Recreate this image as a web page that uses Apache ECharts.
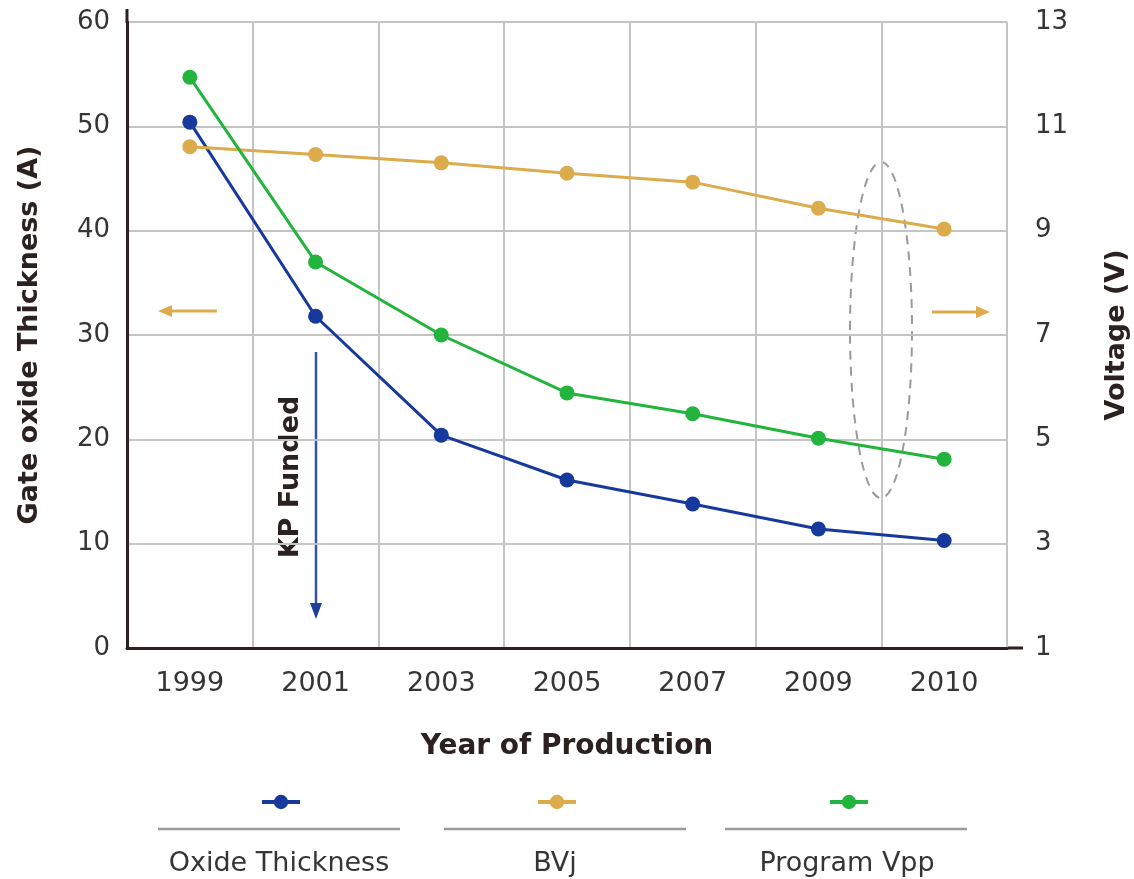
<!DOCTYPE html>
<html>
<head>
<meta charset="utf-8">
<script src="https://cdn.jsdelivr.net/npm/echarts@6/dist/echarts.min.js"></script>
<style>
  html, body { margin: 0; padding: 0; background: #fff; }
  #chart { width: 1134px; height: 879px; }
</style>
</head>
<body>
<div id="chart"></div>
<script>
// data
const years = ["1999", "2001", "2003", "2005", "2007", "2009", "2010"];
const oxideThickness = [50.4, 31.8, 20.4, 16.1, 13.8, 11.4, 10.3]; // left axis (A)
const bvj = [10.61, 10.46, 10.3, 10.1, 9.93, 9.43, 9.03]; // right axis (V)
const programVpp = [11.94, 8.4, 7.0, 5.89, 5.49, 5.02, 4.62]; // right axis (V)
const seriesNames = ["Oxide Thickness", "BVj", "Program Vpp"];

const BLUE = "#16399b";
const GOLD = "#dcab4c";
const GREEN = "#22b43c";
const DARK = "#2b2220";
const TEXT = "#353535";
const FONT = "DejaVu Sans";

// legend positions: icon centres and the grey rule centres under them
const legendX = [279, 555, 847];
const ruleX = [279, 565, 846];

const chart = echarts.init(document.getElementById("chart"));

const legendGraphics = [];
seriesNames.forEach((name, i) => {
  legendGraphics.push({
    type: "line",
    shape: { x1: ruleX[i] - 121, y1: 829, x2: ruleX[i] + 121, y2: 829 },
    style: { stroke: "#9a9a9a", lineWidth: 2.5 },
  });
  legendGraphics.push({
    type: "text",
    x: legendX[i],
    y: 864,
    style: {
      text: name,
      fill: TEXT,
      font: "27px " + FONT,
      textAlign: "center",
      align: "center",
      textVerticalAlign: "middle",
      verticalAlign: "middle",
    },
  });
});

const option = {
  animation: false,
  backgroundColor: "#fff",
  grid: { left: 127, right: 127, top: 22, bottom: 231, outerBoundsMode: "none", containLabel: false },
  legend: seriesNames.map((name, i) => ({
    data: [name],
    left: legendX[i] - 19,
    top: 793,
    padding: 0,
    itemWidth: 38,
    itemHeight: 18,
    lineStyle: { width: 4 },
    formatter: () => "",
  })),
  xAxis: {
    type: "category",
    data: years,
    boundaryGap: true,
    name: "Year of Production",
    nameLocation: "middle",
    nameGap: 85,
    nameTextStyle: { fontFamily: FONT, fontSize: 28, fontWeight: "bold", color: DARK },
    axisLine: { show: true, lineStyle: { color: DARK, width: 3 } },
    axisTick: { show: false },
    axisLabel: { fontFamily: FONT, fontSize: 27, color: TEXT, margin: 22 },
    splitLine: { show: true, lineStyle: { color: "#c4c4c4", width: 2 } },
  },
  yAxis: [
    {
      type: "value",
      min: 0,
      max: 60,
      interval: 10,
      name: "Gate oxide Thickness (A)",
      nameLocation: "middle",
      nameGap: 84,
      nameTextStyle: { fontFamily: FONT, fontSize: 27, fontWeight: "bold", color: DARK },
      axisLine: { show: true, lineStyle: { color: DARK, width: 3 } },
      axisTick: { show: false },
      axisLabel: { fontFamily: FONT, fontSize: 26, color: TEXT, margin: 17 },
      splitLine: { show: true, lineStyle: { color: "#c4c4c4", width: 2 } },
    },
    {
      type: "value",
      position: "right",
      min: 1,
      max: 13,
      interval: 2,
      name: "Voltage (V)",
      nameLocation: "middle",
      nameGap: 96,
      nameTextStyle: { fontFamily: FONT, fontSize: 27, fontWeight: "bold", color: DARK },
      axisLine: { show: false },
      axisTick: { show: false },
      axisLabel: { fontFamily: FONT, fontSize: 26, color: TEXT, margin: 28 },
      splitLine: { show: false },
    },
  ],
  series: [
    {
      name: seriesNames[0],
      type: "line",
      yAxisIndex: 0,
      data: oxideThickness,
      symbol: "circle",
      symbolSize: 15,
      lineStyle: { color: BLUE, width: 3 },
      itemStyle: { color: BLUE },
    },
    {
      name: seriesNames[1],
      type: "line",
      yAxisIndex: 1,
      data: bvj,
      symbol: "circle",
      symbolSize: 15,
      lineStyle: { color: GOLD, width: 3 },
      itemStyle: { color: GOLD },
    },
    {
      name: seriesNames[2],
      type: "line",
      yAxisIndex: 1,
      data: programVpp,
      symbol: "circle",
      symbolSize: 15,
      lineStyle: { color: GREEN, width: 3 },
      itemStyle: { color: GREEN },
    },
  ],
  graphic: [
    // axis line overhangs
    { type: "line", shape: { x1: 127, y1: 9, x2: 127, y2: 23 }, style: { stroke: DARK, lineWidth: 3 } },
    { type: "line", shape: { x1: 1006, y1: 648, x2: 1023, y2: 648 }, style: { stroke: DARK, lineWidth: 3 } },
    // dashed ellipse round the voltage curves
    {
      type: "ellipse",
      shape: { cx: 881, cy: 330, rx: 31, ry: 168 },
      style: { fill: "none", stroke: "#9a9a9a", lineWidth: 2, lineDash: [9, 7] },
    },
    // left / right axis arrows
    { type: "line", shape: { x1: 168, y1: 311, x2: 217, y2: 311 }, style: { stroke: GOLD, lineWidth: 3 } },
    { type: "polygon", shape: { points: [[158, 311], [172, 305], [172, 317]] }, style: { fill: GOLD } },
    { type: "line", shape: { x1: 932, y1: 312, x2: 978, y2: 312 }, style: { stroke: GOLD, lineWidth: 3 } },
    { type: "polygon", shape: { points: [[990, 312], [976, 306], [976, 318]] }, style: { fill: GOLD } },
    // KP Funded marker
    { type: "line", shape: { x1: 316, y1: 352, x2: 316, y2: 606 }, style: { stroke: "#3452a8", lineWidth: 2.5 } },
    { type: "polygon", shape: { points: [[316, 619], [310, 603], [322, 603]] }, style: { fill: "#1f3f9f" } },
    {
      type: "text",
      x: 291,
      y: 477,
      rotation: Math.PI / 2,
      style: {
        text: "KP Funded",
        fill: DARK,
        font: "bold 27px " + FONT,
        textAlign: "center",
        align: "center",
        textVerticalAlign: "middle",
        verticalAlign: "middle",
      },
    },
    ...legendGraphics,
  ],
};

chart.setOption(option);
</script>
</body>
</html>
